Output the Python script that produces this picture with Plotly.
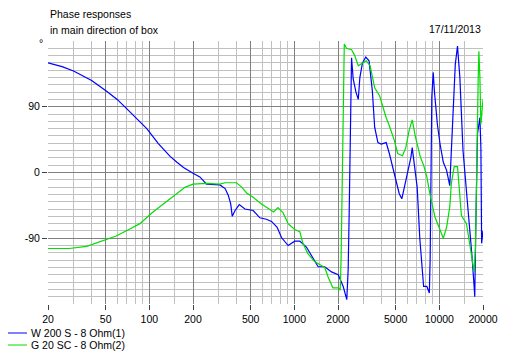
import numpy as np
import plotly.graph_objects as go

# ---------------- data ----------------
title_lines = ["Phase responses", "in main direction of box"]
date_text = "17/11/2013"
series_names = ["W 200 S - 8 Ohm(1)", "G 20 SC - 8 Ohm(2)"]
series_colors = ["#0000FF", "#00DD00"]

freq_blue = [20, 25, 30, 40, 51, 60, 70, 80, 96, 115, 139, 155, 172, 200, 223, 248,
             307, 333, 350, 364, 373, 390, 417, 456, 520, 578, 641, 696, 761, 815,
             906, 1006, 1090, 1211, 1311, 1458, 1621, 1805, 2006, 2173, 2300, 2351,
             2390, 2442, 2480, 2546, 2660, 2760, 2830, 2950, 3110, 3274, 3450, 3580,
             3770, 3970, 4300, 4520, 4890, 5290, 5510, 6040, 6370, 6500, 6680, 7030,
             7330, 7600, 7790, 8200, 8530, 8640, 8870, 9070, 9240, 9690, 10110, 10650,
             11220, 11800, 12100, 12400, 12880, 13340, 13850, 14560, 15380, 16200,
             16800, 17370, 17550, 17820, 18330, 19040, 19340, 19570, 20000]
phase_blue = [150, 145, 139, 126, 111, 100, 87, 76, 60, 40, 22, 14, 7, -1, -6, -16,
              -17, -22, -31, -43, -60, -52, -44, -50, -52, -62, -64, -67, -75, -89,
              -100, -94, -94, -102, -113, -129, -129, -136, -140, -156, -174, -132,
              -52, 71, 157, 128, 110, 100, 130, 150, 158, 153, 112, 62,
              41, 39, 41, 26, -2, -29, -36, -2, 21, 34, 12, -20,
              -90, -129, -156, -156, -165, -118, 103, 137, 112, 66, 39, 14,
              3, -18, 25, 80, 148, 173, 130, 30, -24, -70,
              -115, -156, -170, -79, 53, 75, 34, -97, -80]

freq_green = [20, 28, 37, 51, 59, 74, 86, 106, 131, 155, 177, 200, 248, 307, 333, 399,
              433, 469, 520, 593, 675, 720, 770, 835, 906, 1006, 1090, 1146, 1240,
              1376, 1493, 1621, 1709, 1845, 2006, 2070, 2100, 2148, 2190, 2210, 2290,
              2480, 2610, 2760, 2900, 3130, 3330, 3580, 3870, 4080, 4300, 4520, 4890,
              5160, 5570, 5870, 6180, 6500, 6850, 7400, 7790, 8200, 8640, 9330, 10110,
              10650, 11220, 11800, 12100, 12660, 13340, 13640, 14200, 15380, 16200,
              16800, 17370, 17740, 18130, 18530, 18730, 19040, 19340, 20000]
phase_green = [-104, -104, -101, -91, -87, -77, -70, -54, -40, -29, -20, -16, -15, -16, -14, -14,
               -20, -28, -34, -43, -50, -54, -48, -55, -70, -78, -81, -97, -111,
               -122, -126, -130, -143, -158, -158, -161, -120, 48, 134, 176, 170,
               168, 160, 146, 149, 153, 146, 116, 105, 89, 75, 64, 44,
               26, 23, 34, 57, 72, 48, 21, 10, -6, -31, -61, -79,
               -90, -75, -47, -15, 8, 8, -15, -59, -70, -97,
               -115, -136, -104, 53, 128, 166, 130, 66, 100]

x_major = [20, 50, 100, 200, 500, 1000, 2000, 5000, 10000, 20000]
x_major_text = ["20", "50", "100", "200", "500", "1000", "2000", "5000", "10000", "20000"]
x_minor = [30, 40, 60, 70, 80, 90, 150, 300, 400, 600, 700, 800, 900, 1500,
           3000, 4000, 6000, 7000, 8000, 9000, 15000]
y_major = [-90, 0, 90]
y_major_text = ["-90", "0", "90"]
y_minor = [v for v in range(-170, 190, 10) if v not in (-90, 0, 90)]

FONT = "Liberation Sans, Arial, sans-serif"
FS = 10.5

fig = go.Figure()
fig.add_trace(go.Scatter(x=freq_blue, y=phase_blue, mode="lines", name=series_names[0],
                         line=dict(color=series_colors[0], width=1.2), showlegend=False))
fig.add_trace(go.Scatter(x=freq_green, y=phase_green, mode="lines", name=series_names[1],
                         line=dict(color=series_colors[1], width=1.2), showlegend=False))

fig.update_layout(
    width=529, height=354,
    margin=dict(l=48, r=46, t=41, b=50),
    paper_bgcolor="white", plot_bgcolor="white",
    font=dict(family=FONT, size=FS, color="black"),
    xaxis=dict(
        type="log", range=[np.log10(20), np.log10(20000)],
        tickmode="array", tickvals=x_major, ticktext=x_major_text,
        showgrid=True, gridcolor="#808080", gridwidth=1,
        ticks="outside", ticklen=5, tickcolor="#404040", tickwidth=1,
        showline=False, zeroline=False,
        minor=dict(tickmode="array", tickvals=x_minor, showgrid=True,
                   gridcolor="#c0c0c0", gridwidth=1, ticks=""),
    ),
    yaxis=dict(
        range=[-180, 180],
        tickmode="array", tickvals=y_major, ticktext=y_major_text,
        showgrid=True, gridcolor="#808080", gridwidth=1,
        ticks="outside", ticklen=5, tickcolor="#404040", tickwidth=1,
        showline=False, zeroline=False,
        minor=dict(tickmode="array", tickvals=y_minor, showgrid=True,
                   gridcolor="#c0c0c0", gridwidth=1, ticks=""),
    ),
)

annotations = [
    dict(text=title_lines[0], xref="paper", yref="paper", x=0, y=(304 - 14) / 263,
         xanchor="left", yanchor="middle", showarrow=False),
    dict(text=title_lines[1], xref="paper", yref="paper", x=0, y=(304 - 30) / 263,
         xanchor="left", yanchor="middle", showarrow=False),
    dict(text=date_text, xref="paper", yref="paper", x=1, y=(304 - 29) / 263,
         xanchor="right", yanchor="middle", showarrow=False),
    dict(text="°", xref="paper", yref="paper", x=(41 - 48) / 435, y=1,
         xanchor="center", yanchor="middle", showarrow=False, yshift=-2),
]
shapes = []
leg_y = [333, 345]
for i, name in enumerate(series_names):
    py = (304 - leg_y[i]) / 263
    shapes.append(dict(type="line", xref="paper", yref="paper",
                       x0=(8 - 48) / 435, x1=(27 - 48) / 435, y0=py, y1=py,
                       line=dict(color=series_colors[i], width=1)))
    annotations.append(dict(text=name, xref="paper", yref="paper", x=(29 - 48) / 435, y=py,
                            xanchor="left", yanchor="middle", showarrow=False))

fig.update_layout(annotations=annotations, shapes=shapes)
fig.write_html("out.html")
